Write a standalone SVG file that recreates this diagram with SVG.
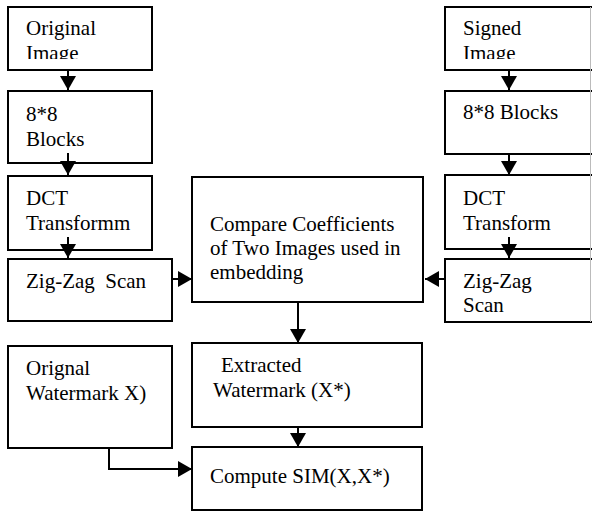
<svg xmlns="http://www.w3.org/2000/svg" width="592" height="511" viewBox="0 0 592 511">
<style>
.box{fill:#fff;stroke:#000;stroke-width:2}
.t{font-family:"Liberation Serif","Times New Roman",serif;font-size:21px;fill:#000}
.c{fill:none;stroke:#000;stroke-width:2}
</style>
<defs>
<marker id="ah" markerUnits="userSpaceOnUse" markerWidth="14" markerHeight="16" viewBox="0 0 14 16" refX="14" refY="8" orient="auto">
<path d="M0,0 L14,8 L0,16 z" fill="#000"/>
</marker>
<clipPath id="clipL"><rect x="8" y="7" width="144" height="52"/></clipPath>
<clipPath id="clipR"><rect x="445" y="7" width="146" height="52"/></clipPath>
</defs>
<rect width="592" height="511" fill="#fff"/>
<g id="original-image">
<rect class="box" x="8" y="7" width="144" height="63"/>
<g clip-path="url(#clipL)"><text class="t" x="26" y="35">Original</text><text class="t" x="26" y="60">Image</text></g>
</g>
<g id="blocks-left">
<rect class="box" x="8" y="91" width="144" height="72"/>
<text class="t" x="26" y="121">8*8</text><text class="t" x="26" y="146">Blocks</text>
</g>
<g id="dct-left">
<rect class="box" x="8" y="176" width="144" height="74"/>
<text class="t" x="26" y="205">DCT</text><text class="t" x="26" y="230">Transformm</text>
</g>
<g id="zigzag-left">
<rect class="box" x="8" y="259" width="164" height="62"/>
<text class="t" x="26" y="288" xml:space="preserve">Zig-Zag  Scan</text>
</g>
<g id="orignal-watermark">
<rect class="box" x="8" y="346" width="164" height="102"/>
<text class="t" x="26" y="375">Orignal</text><text class="t" x="26" y="400">Watermark X)</text>
</g>
<g id="compare">
<rect class="box" x="192" y="177" width="231" height="125"/>
<text class="t" x="210" y="231">Compare Coefficients</text>
<text class="t" x="210" y="255">of Two Images used in</text>
<text class="t" x="210" y="279">embedding</text>
</g>
<g id="extracted">
<rect class="box" x="192" y="343" width="230" height="84"/>
<text class="t" x="221" y="372">Extracted</text>
<text class="t" x="213" y="397">Watermark (X*)</text>
</g>
<g id="compute">
<rect class="box" x="192" y="447" width="230" height="63"/>
<text class="t" x="210" y="483">Compute SIM(X,X*)</text>
</g>
<g id="signed-image">
<path class="box" d="M600,7 H445 V70 H600"/>
<g clip-path="url(#clipR)"><text class="t" x="463" y="35">Signed</text><text class="t" x="463" y="60">Image</text></g>
</g>
<g id="blocks-right">
<path class="box" d="M600,91 H445 V154 H600"/>
<text class="t" x="463" y="119">8*8 Blocks</text>
</g>
<g id="dct-right">
<path class="box" d="M600,175 H445 V249 H600"/>
<text class="t" x="463" y="205">DCT</text><text class="t" x="463" y="230">Transform</text>
</g>
<g id="zigzag-right">
<path class="box" d="M600,259 H445 V322 H600"/>
<text class="t" x="463" y="288">Zig-Zag</text><text class="t" x="463" y="312">Scan</text>
</g>
<line x1="590.5" y1="7" x2="590.5" y2="322" stroke="#bbb" stroke-width="1"/>
<g id="connectors">
<path class="c" d="M68,70 V90" marker-end="url(#ah)"/>
<path class="c" d="M68,153 V175" marker-end="url(#ah)"/>
<path class="c" d="M68,237 V258" marker-end="url(#ah)"/>
<path class="c" d="M173,279 H192" marker-end="url(#ah)"/>
<path class="c" d="M298,302 V343" marker-end="url(#ah)"/>
<path class="c" d="M298,427 V447" marker-end="url(#ah)"/>
<path class="c" d="M109,448 V469 H192" marker-end="url(#ah)"/>
<path class="c" d="M509,70 V90" marker-end="url(#ah)"/>
<path class="c" d="M509,154 V175" marker-end="url(#ah)"/>
<path class="c" d="M509,237 V258" marker-end="url(#ah)"/>
<path class="c" d="M445,279 H425" marker-end="url(#ah)"/>
</g>
</svg>
